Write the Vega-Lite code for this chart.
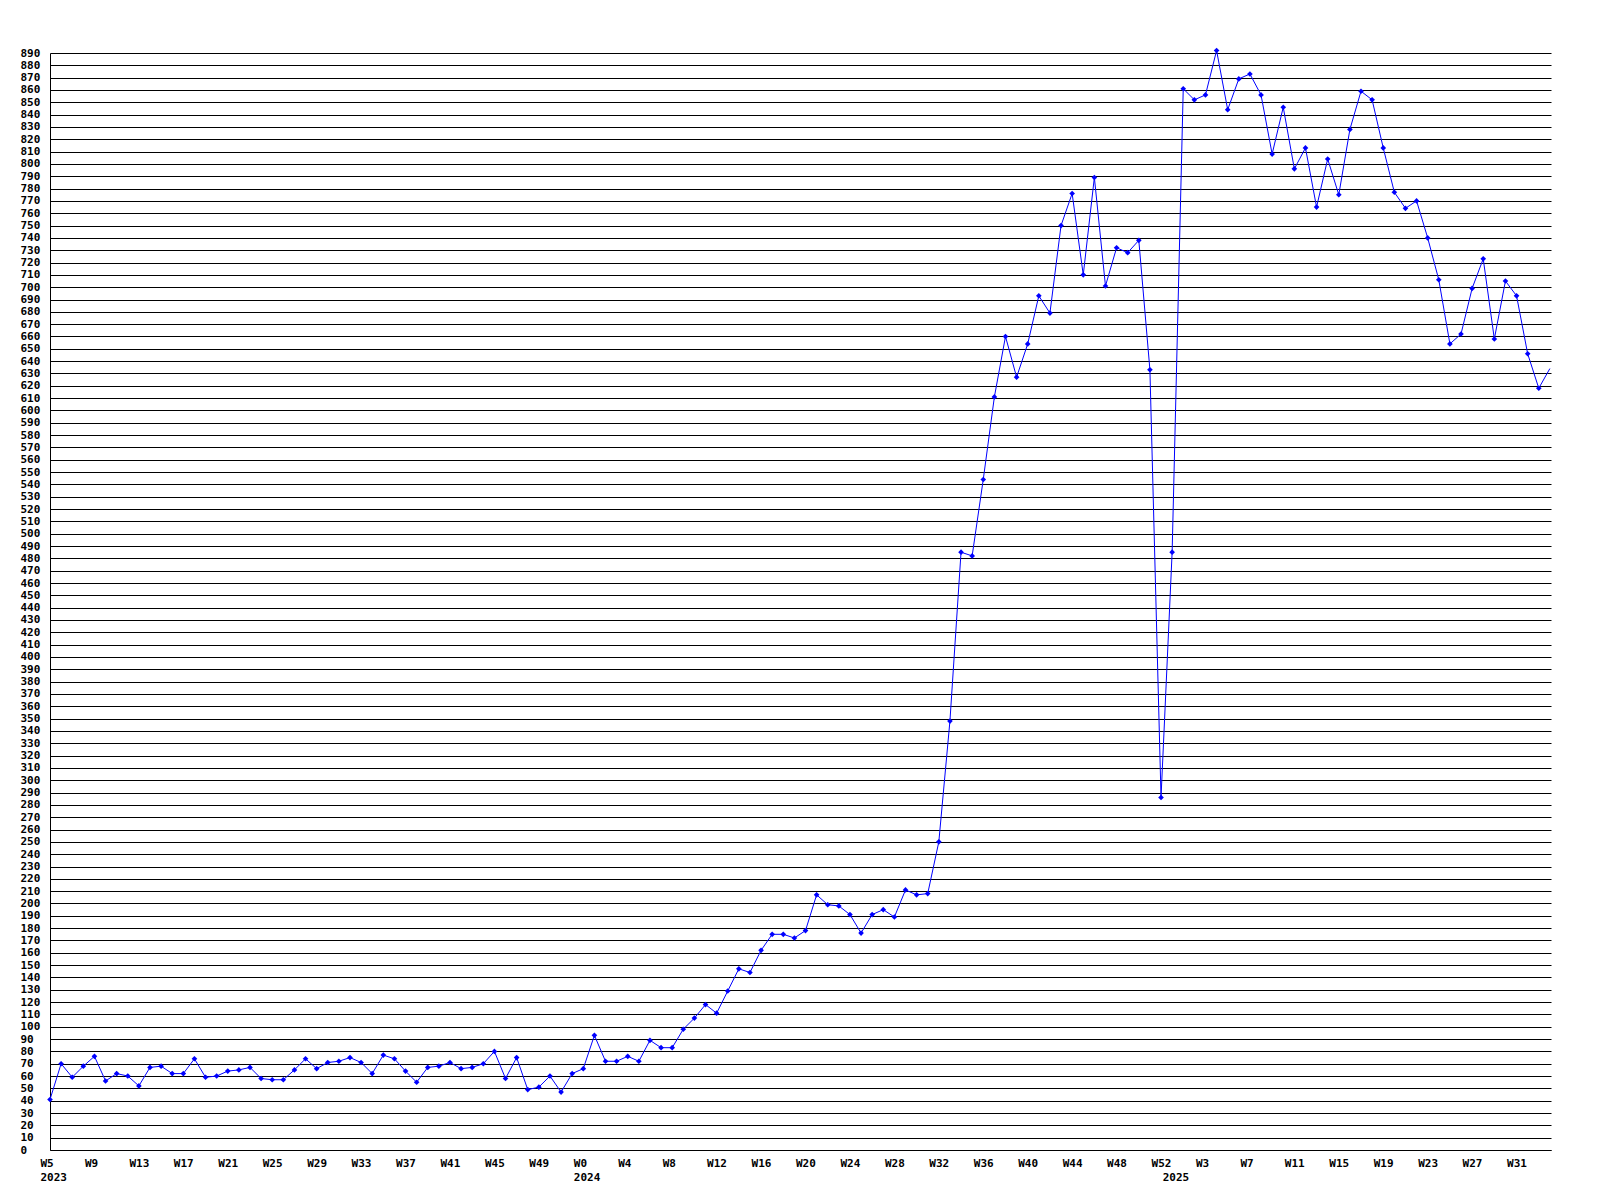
{
  "$schema": "https://vega.github.io/schema/vega-lite/v6.json",
  "width": 1501,
  "height": 1097,
  "autosize": {"type": "none"},
  "padding": {"left": 50, "top": 53, "right": 49, "bottom": 50},
  "background": "white",
  "config": {"view": {"stroke": null}, "font": "DejaVu Sans Mono"},
  "data": {"values": [
    {"i":0,"v":41},{"i":1,"v":70},{"i":2,"v":59},{"i":3,"v":68},{"i":4,"v":76},{"i":5,"v":56},{"i":6,"v":62},{"i":7,"v":60},{"i":8,"v":52},{"i":9,"v":67},
    {"i":10,"v":68},{"i":11,"v":62},{"i":12,"v":62},{"i":13,"v":74},{"i":14,"v":59},{"i":15,"v":60},{"i":16,"v":64},{"i":17,"v":65},{"i":18,"v":67},{"i":19,"v":58},
    {"i":20,"v":57},{"i":21,"v":57},{"i":22,"v":65},{"i":23,"v":74},{"i":24,"v":66},{"i":25,"v":71},{"i":26,"v":72},{"i":27,"v":75},{"i":28,"v":71},{"i":29,"v":62},
    {"i":30,"v":77},{"i":31,"v":74},{"i":32,"v":64},{"i":33,"v":55},{"i":34,"v":67},{"i":35,"v":68},{"i":36,"v":71},{"i":37,"v":66},{"i":38,"v":67},{"i":39,"v":70},
    {"i":40,"v":80},{"i":41,"v":58},{"i":42,"v":75},{"i":43,"v":49},{"i":44,"v":51},{"i":45,"v":60},{"i":46,"v":47},{"i":47,"v":62},{"i":48,"v":66},{"i":49,"v":93},
    {"i":50,"v":72},{"i":51,"v":72},{"i":52,"v":76},{"i":53,"v":72},{"i":54,"v":89},{"i":55,"v":83},{"i":56,"v":83},{"i":57,"v":98},{"i":58,"v":107},{"i":59,"v":118},
    {"i":60,"v":111},{"i":61,"v":129},{"i":62,"v":147},{"i":63,"v":144},{"i":64,"v":162},{"i":65,"v":175},{"i":66,"v":175},{"i":67,"v":172},{"i":68,"v":178},{"i":69,"v":207},
    {"i":70,"v":199},{"i":71,"v":198},{"i":72,"v":191},{"i":73,"v":176},{"i":74,"v":191},{"i":75,"v":195},{"i":76,"v":189},{"i":77,"v":211},{"i":78,"v":207},{"i":79,"v":208},
    {"i":80,"v":250},{"i":81,"v":348},{"i":82,"v":485},{"i":83,"v":482},{"i":84,"v":544},{"i":85,"v":611},{"i":86,"v":660},{"i":87,"v":627},{"i":88,"v":654},{"i":89,"v":693},
    {"i":90,"v":679},{"i":91,"v":750},{"i":92,"v":776},{"i":93,"v":710},{"i":94,"v":789},{"i":95,"v":701},{"i":96,"v":732},{"i":97,"v":728},{"i":98,"v":738},{"i":99,"v":633},
    {"i":100,"v":286},{"i":101,"v":485},{"i":102,"v":861},{"i":103,"v":852},{"i":104,"v":856},{"i":105,"v":892},{"i":106,"v":844},{"i":107,"v":869},{"i":108,"v":873},{"i":109,"v":856},
    {"i":110,"v":808},{"i":111,"v":846},{"i":112,"v":796},{"i":113,"v":813},{"i":114,"v":765},{"i":115,"v":804},{"i":116,"v":775},{"i":117,"v":828},{"i":118,"v":859},{"i":119,"v":852},
    {"i":120,"v":813},{"i":121,"v":777},{"i":122,"v":764},{"i":123,"v":770},{"i":124,"v":740},{"i":125,"v":706},{"i":126,"v":654},{"i":127,"v":662},{"i":128,"v":699},{"i":129,"v":723},
    {"i":130,"v":658},{"i":131,"v":705},{"i":132,"v":693},{"i":133,"v":646},{"i":134,"v":618},{"i":135,"v":634}
  ]},
  "encoding": {
    "x": {
      "field": "i", "type": "quantitative",
      "scale": {"domain": [0, 135.1], "nice": false, "zero": false},
      "axis": {
        "values": [0,4,8,12,16,20,24,28,32,36,40,44,48,52,56,60,64,68,72,76,80,84,88,92,96,100,101,104,108,112,116,120,124,128,132],
        "labelExpr": "datum.value == 0 ? ['W5','2023'] : datum.value == 48 ? ['W0','2024'] : datum.value == 101 ? ['','2025'] : datum.value < 48 ? 'W' + (datum.value + 5) : datum.value < 101 ? 'W' + (datum.value - 48) : 'W' + (datum.value - 101)",
        "title": null, "grid": false, "ticks": false,
        "domain": true, "domainColor": "black", "domainWidth": 1,
        "labelAlign": "left", "labelOffset": -10, "labelBaseline": "top", "labelPadding": 7,
        "labelFont": "DejaVu Sans Mono", "labelFontWeight": "bold", "labelFontSize": 11,
        "labelColor": "black", "labelLineHeight": 14, "labelOverlap": false, "labelFlush": false
      }
    },
    "y": {
      "field": "v", "type": "quantitative",
      "scale": {"domain": [0, 890], "nice": false},
      "axis": {
        "values": [0,10,20,30,40,50,60,70,80,90,100,110,120,130,140,150,160,170,180,190,200,210,220,230,240,250,260,270,280,290,300,310,320,330,340,350,360,370,380,390,400,410,420,430,440,450,460,470,480,490,500,510,520,530,540,550,560,570,580,590,600,610,620,630,640,650,660,670,680,690,700,710,720,730,740,750,760,770,780,790,800,810,820,830,840,850,860,870,880,890],
        "title": null, "grid": true, "gridColor": "black", "gridOpacity": 1, "gridWidth": 1,
        "ticks": false, "domain": true, "domainColor": "black", "domainWidth": 1,
        "labelAlign": "left", "labelPadding": 30, "labelBaseline": "middle",
        "labelFont": "DejaVu Sans Mono", "labelFontWeight": "bold", "labelFontSize": 11,
        "labelColor": "black", "labelOverlap": false, "labelFlush": false
      }
    }
  },
  "layer": [
    {"mark": {"type": "line", "color": "#0000ff", "strokeWidth": 1, "clip": false}},
    {"transform": [{"filter": "datum.i < 135"}],
     "mark": {"type": "point", "shape": "diamond", "filled": true, "size": 32, "color": "#0000ff", "opacity": 1, "clip": false}}
  ]
}
